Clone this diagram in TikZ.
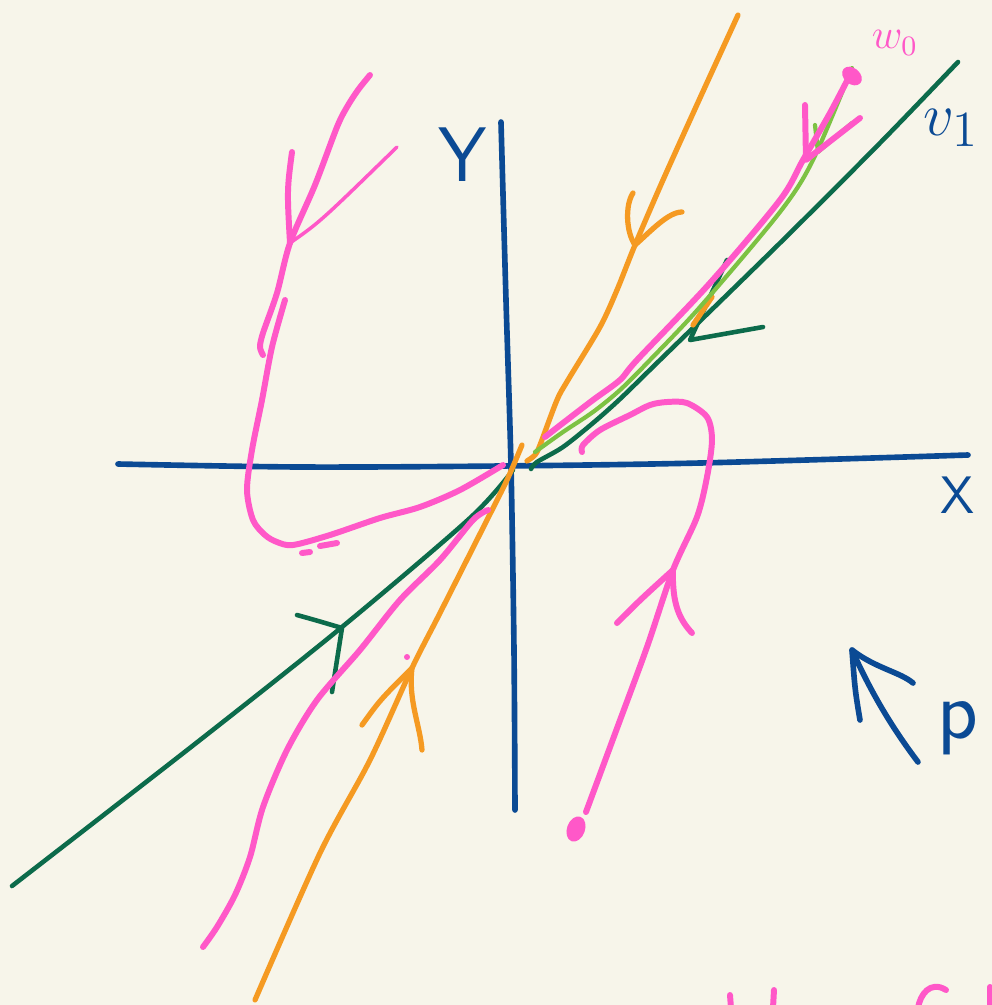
\documentclass[tikz,border=0pt]{standalone}
\usepackage{tikz}

\definecolor{paper}{HTML}{F7F5EA}
\definecolor{penblue}{HTML}{0B4A94}
\definecolor{pengreen}{HTML}{0C6B4B}
\definecolor{penlime}{HTML}{7DC243}
\definecolor{penorange}{HTML}{F59A22}
\definecolor{penpink}{HTML}{FF58C8}

\begin{document}
\begin{tikzpicture}[x=0.01cm,y=-0.01cm,
  axis/.style={penblue,line width=1.6pt,line cap=round,line join=round},
  eig/.style={pengreen,line width=1.3pt,line cap=round,line join=round},
  lime/.style={penlime,line width=1.2pt,line cap=round,line join=round},
  orbit/.style={penorange,line width=1.5pt,line cap=round,line join=round},
  flow/.style={penpink,line width=1.7pt,line cap=round,line join=round},
  thinflow/.style={penpink,line width=1.0pt,line cap=round,line join=round}]

% Paper
\useasboundingbox (0,0) rectangle (992,1005);
\fill[paper] (0,0) rectangle (992,1005);
\clip (0,0) rectangle (992,1005);

% Draw the x-axis
\draw[axis] plot[smooth] coordinates {(118,464) (300,467) (500,466) (700,463) (968,455)};
\node[penblue,font=\sffamily\fontsize{15}{15}\selectfont] (xlab) at (958,495) {X};

% Draw the y-axis
\draw[axis] plot[smooth] coordinates {(501,122) (506,300) (511,466) (514,650) (515,810)};
\node[penblue,font=\sffamily\fontsize{22}{22}\selectfont] (ylab) at (463,155) {Y};

% Eigen line v1 (dark green)
\draw[eig] plot[smooth] coordinates {(12,886) (200,740) (342,627) (470,518) (513,470)};
\draw[eig] plot[smooth] coordinates {(531,469) (537,462) (563,447) (593,423) (620,399) (660,360) (780,243) (880,143) (958,62)};
\node[penblue,font=\fontsize{19}{19}\selectfont,anchor=east] (vlab) at (991,128) {$v_1$};
% arrows on v1
\coordinate (vtipA) at (690,340);
\draw[eig] (727,260) -- (vtipA) -- (763,327);
\coordinate (vtipB) at (342,628);
\draw[eig] (297,615) .. controls (315,620) .. (vtipB) -- (332,692);

% Orange line
\draw[orbit] plot[smooth] coordinates {(255,1000) (320,853) (370,760) (412,668) (440,613) (487,520) (507,480) (522,445)};
\draw[orbit] plot[smooth] coordinates {(527,461) (535,455) (540,445) (557,400) (568,380) (600,327) (617,290) (635,245) (663,180) (700,98) (738,15)};
\draw[orbit] (693,325) -- (712,297);
% arrows on the orange line
\coordinate (otipA) at (635,245);
\draw[orbit] (633,193) .. controls (625,205) and (626,232) .. (otipA) .. controls (650,232) and (668,212) .. (682,212);
\coordinate (otipB) at (412,668);
\draw[orbit] (362,725) .. controls (380,700) .. (otipB) .. controls (408,700) and (420,725) .. (422,750);

% Trajectory from w0 (with the lime copy)
\draw[lime] plot[smooth] coordinates {(535,452) (563,432) (593,412) (620,390) (650,360) (700,307) (780,212) (813,160) (852,68)};
\coordinate (ltip) at (818,152);
\draw[lime] (815,125) -- (ltip) -- (852,123);
\draw[flow] plot[smooth] coordinates {(545,437) (563,423) (593,400) (620,380) (637,360) (710,283) (780,200) (803,160) (830,113) (850,75)};
\fill[penpink,rotate around={-40:(852,76)}] (852,76) ellipse (11 and 8);
\node[penpink,font=\fontsize{12}{12}\selectfont] (wlab) at (895,43) {$w_0$};
\coordinate (wtip) at (806,160);
\draw[flow] (805,105) -- (wtip) -- (860,118);

% Upper left trajectory
\draw[flow] plot[smooth] coordinates {(370,75) (358,90) (347,107) (337,127) (315,185) (290,243) (277,293) (263,333) (260,347) (263,355)};
\coordinate (ptipA) at (290,243);
\draw[flow] (292,152) .. controls (287,190) .. (ptipA);
\draw[thinflow] (ptipA) .. controls (320,222) .. (397,147);
\draw[flow] plot[smooth] coordinates {(285,300) (272,347) (262,400) (252,450) (247,490) (253,520) (265,535) (277,542) (293,545) (330,535) (380,518) (420,507) (460,490) (503,465)};
\draw[flow] (302,553) -- (310,552);
\draw[flow] (320,546) -- (337,543);

% Lower left trajectory
\draw[flow] plot[smooth] coordinates {(203,947) (217,927) (235,895) (250,857) (263,807) (287,750) (317,700) (360,650) (400,600) (440,560) (473,520) (488,510)};
\fill[penpink] (407,657) circle (3);

% Lower right trajectory
\draw[flow] plot[smooth] coordinates {(582,452) (583,445) (600,430) (630,415) (650,405) (667,402) (687,403) (707,417) (712,440) (707,477) (697,517) (673,570) (647,647) (616,731) (586,812)};
\fill[penpink,rotate around={70:(576,829)}] (576,829) ellipse (13 and 9);
\coordinate (ptipB) at (673,570);
\draw[flow] (617,623) .. controls (640,600) .. (ptipB) .. controls (672,605) and (680,620) .. (692,633);

% Arrow p
\coordinate (ptip) at (852,650);
\draw[axis] (918,762) .. controls (890,725) and (870,690) .. (ptip);
\draw[axis] (860,720) .. controls (855,690) .. (ptip) .. controls (875,668) and (900,672) .. (913,683);
\node[penblue,font=\sffamily\fontsize{24}{24}\selectfont,anchor=east] (plab) at (991,728) {p};

% Bottom text (cut off)
\draw[flow] (730,995) -- (731,1008);
\draw[flow] (774,990) -- (773,1008);
\draw[flow] (946,990) .. controls (930,980) and (920,995) .. (918,1008);
\draw[flow] (990,987) -- (990,1008);

\end{tikzpicture}
\end{document}
